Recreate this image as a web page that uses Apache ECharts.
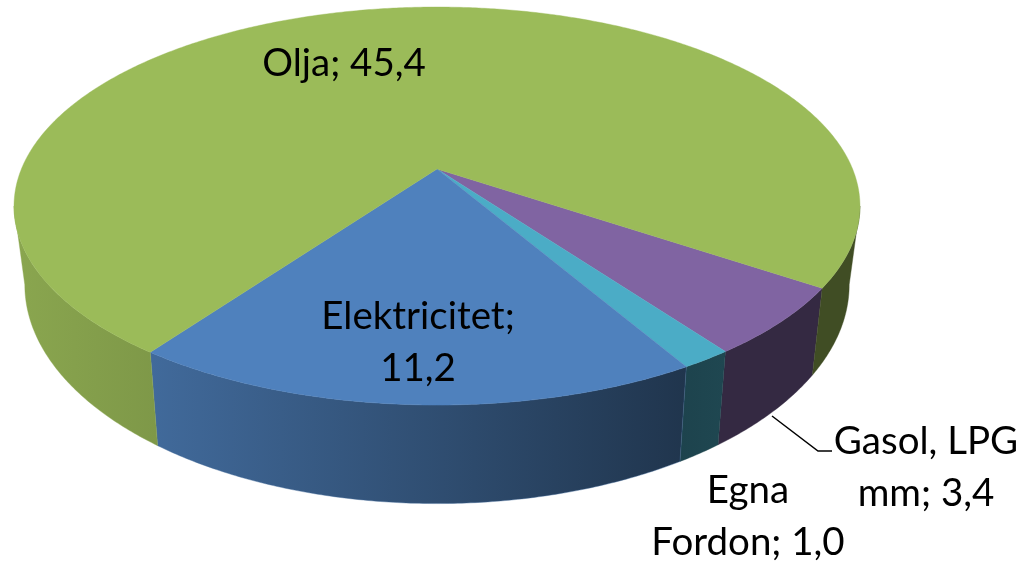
<!DOCTYPE html>
<html>
<head>
<meta charset="utf-8">
<title>Pie</title>
<style>
  html, body { margin: 0; padding: 0; background: #fff; }
  #chart { width: 1027px; height: 564px; }
</style>
<script src="https://cdn.jsdelivr.net/npm/echarts@6/dist/echarts.min.js"></script>
</head>
<body>
<div id="chart"></div>
<script>
// clockwise from the start angle
const categories = ['Gasol, LPG mm', 'Egna Fordon', 'Elektricitet', 'Olja'];
const values = [3.4, 1.0, 11.2, 45.4];
const colors = ['#8064a2', '#4bacc6', '#4f81bd', '#9bbb59'];
const labelLines = [
  ['Gasol, LPG', 'mm; '],
  ['Egna', 'Fordon; '],
  ['Elektricitet;', ''],
  ['']
];

const startAngle = 33.8;
const cx = 437;
const tilt = 0.186;
const topFace = { a: 415.6, b: 192.1, cy: 169 };
const bottomFace = { a: 405, b: 211.3, cy: 244 };
const labelPos = [[926, 468], [748, 517], [418, 343], [344, 64]];
const fontFamily = 'Lato, "Noto Sans", sans-serif';
const fontSize = 38.5;

const total = values.reduce((s, v) => s + v, 0);

function project(face, deg) {
  const t = deg * Math.PI / 180;
  const w = 1 - tilt * Math.sin(t);
  return [cx + face.a * Math.cos(t) / w, face.cy + face.b * Math.sin(t) / w];
}

function arc(face, from, to) {
  const pts = [];
  const n = Math.max(2, Math.ceil(Math.abs(to - from) * 2));
  for (let i = 0; i <= n; i++) pts.push(project(face, from + (to - from) * i / n));
  return pts;
}

// wall brightness follows the horizontal position, dark on the right
function shade(hex, x) {
  let f;
  if (x < 150) f = 0.89 - (x - 14) / 136 * 0.1;
  else if (x < 680) f = 0.82 - (x - 150) / 530 * 0.43;
  else f = 0.41;
  const n = parseInt(hex.slice(1), 16);
  const c = [n >> 16, (n >> 8) & 255, n & 255].map(v => Math.round(v * f));
  return `rgb(${c.join(',')})`;
}

function wallPieces(from, to) {
  const edge = Math.asin(tilt) * 180 / Math.PI;
  const pieces = [];
  [0, 360].forEach(shift => {
    const a = Math.max(from, edge + shift);
    const b = Math.min(to, 180 - edge + shift);
    if (b > a) pieces.push([a, b]);
  });
  return pieces;
}

function labelText(i) {
  const value = values[i].toFixed(1).replace('.', ',');
  const lines = labelLines[i];
  if (i === 3) return `${categories[i]}; ${value}`;
  if (i === 2) return `${lines[0]}\n${value}`;
  return `${lines[0]}\n${lines[1]}${value}`;
}

function renderSlice(params) {
  const i = params.dataIndex;
  const before = values.slice(0, i).reduce((s, v) => s + v, 0);
  const from = startAngle + before / total * 360;
  const to = from + values[i] / total * 360;
  const children = [];

  wallPieces(from, to).forEach(([a, b]) => {
    const upper = arc(topFace, a, b);
    const lower = arc(bottomFace, b, a);
    const pts = upper.concat(lower);
    const xs = pts.map(p => p[0]);
    const x0 = Math.min(...xs);
    const x1 = Math.max(...xs);
    const left = project(topFace, b)[0] < project(topFace, a)[0] ? x0 : x1;
    const fill = new echarts.graphic.LinearGradient(0, 0, 1, 0, [
      { offset: 0, color: shade(colors[i], x0) },
      { offset: 1, color: shade(colors[i], x1) }
    ]);
    children.push({
      type: 'polygon',
      z2: 1,
      shape: { points: pts },
      style: { fill: fill, stroke: shade(colors[i], left), lineWidth: 0.4 }
    });
  });

  children.push({
    type: 'polygon',
    z2: 2,
    shape: { points: [[cx, topFace.cy]].concat(arc(topFace, from, to)) },
    style: { fill: colors[i], stroke: colors[i], lineWidth: 0.4 }
  });

  children.push({
    type: 'text',
    z2: 4,
    x: labelPos[i][0],
    y: labelPos[i][1],
    style: {
      text: labelText(i),
      fill: '#000',
      font: `${fontSize}px ${fontFamily}`,
      lineHeight: 52,
      align: 'center',
      verticalAlign: 'middle'
    }
  });

  if (i === 0) {
    children.push({
      type: 'polyline',
      z2: 3,
      shape: { points: [[772, 416], [818, 451], [832, 451]] },
      style: { fill: 'none', stroke: '#000', lineWidth: 1.5 }
    });
  }

  return { type: 'group', children: children };
}

const chart = echarts.init(document.getElementById('chart'), null, { renderer: 'canvas' });
chart.setOption({
  animation: false,
  backgroundColor: '#fff',
  series: [{
    type: 'custom',
    coordinateSystem: 'none',
    silent: true,
    renderItem: renderSlice,
    data: categories.map((name, i) => ({ name: name, value: values[i] }))
  }]
});
</script>
</body>
</html>
